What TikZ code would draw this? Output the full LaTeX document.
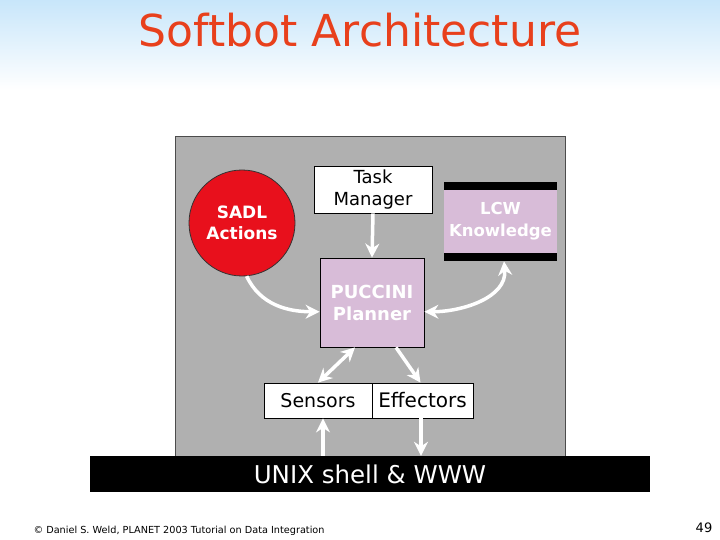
\documentclass[tikz,border=0pt]{standalone}
\usepackage{fontspec}
\setmainfont{DejaVu Sans}
\usetikzlibrary{arrows.meta}
\definecolor{panelgray}{HTML}{B0B0B0}
\definecolor{sadlred}{HTML}{E8101C}
\definecolor{lav}{HTML}{D8BCD8}
\definecolor{titlered}{HTML}{E8401C}
\definecolor{skyblue}{HTML}{C8E6FA}
\tikzset{
  wbox/.style={draw=black, line width=0.8pt, fill=white, inner sep=0pt, align=center, text=black},
  lbox/.style={draw=black, line width=0.8pt, fill=lav, inner sep=0pt, align=center, text=white},
  warrow/.style={draw=white, line width=3.5pt, -{Stealth[length=14pt,width=14pt]}},
  wdarrow/.style={draw=white, line width=3.5pt, {Stealth[length=14pt,width=14pt]}-{Stealth[length=14pt,width=14pt]}}
}
\begin{document}
\begin{tikzpicture}[x=1pt,y=-1pt]
\useasboundingbox (0,0) rectangle (720,540);
\fill[white] (0,0) rectangle (720,540);
\shade[top color=skyblue, bottom color=white] (0,0) rectangle (720,90);
\node[text=titlered, font=\fontsize{44}{48}\selectfont] (title) at (360,30) {Softbot Architecture};
% panel
\fill[panelgray] (175,136) rectangle (565,460);
\draw[black!70, line width=0.6pt] (175,460) -- (175,136) -- (565,136) -- (565,460);
% nodes
\node[circle, draw=black!80, line width=0.8pt, fill=sadlred, minimum size=106pt, inner sep=0pt, align=center, text=white, font=\fontsize{17}{21}\selectfont\bfseries] (sadl) at (242,223) {SADL\\Actions};
\node[wbox, minimum width=118pt, minimum height=47pt, font=\fontsize{18}{22}\selectfont] (task) at (373,189.5) {Task\\Manager};
\node[lbox, draw=none, minimum width=113pt, minimum height=79pt, font=\fontsize{16.5}{22}\selectfont\bfseries] (lcw) at (500.5,221.5) {LCW\\Knowledge};
\fill[black] (444,182) rectangle (557,190);
\fill[black] (444,253) rectangle (557,261);
\node[lbox, minimum width=104pt, minimum height=89pt, font=\fontsize{18}{22}\selectfont\bfseries] (puccini) at (372,302.5) {PUCCINI\\Planner};
\node[wbox, minimum width=108pt, minimum height=35pt, font=\fontsize{19}{22}\selectfont] (sensors) at (318,400.5) {Sensors};
\node[wbox, minimum width=101pt, minimum height=35pt, font=\fontsize{20}{22}\selectfont] (effectors) at (422.5,400.5) {Effectors};
\node[fill=black, minimum width=560pt, minimum height=36pt, inner sep=0pt, text=white, font=\fontsize{24.5}{26}\selectfont] (unix) at (370,474) {UNIX shell \& WWW};
% arrows
\draw[warrow] (task.south) -- (puccini.north);
\draw[warrow] (sadl.-85) to[out=-65, in=180] (puccini.190);
\draw[wdarrow] (puccini.-10) to[out=0, in=-85] (lcw.-85);
\draw[wdarrow] ([xshift=-17pt]puccini.south) -- (sensors.north);
\draw[warrow] ([xshift=24pt]puccini.south) -- ([xshift=-2pt]effectors.north);
\draw[warrow] ([xshift=5pt]sensors.south |- unix.north) -- ([xshift=5pt]sensors.south);
\draw[warrow] ([xshift=-1.5pt]effectors.south) -- ([xshift=-1.5pt]effectors.south |- unix.north);
% footer
\node[anchor=west, font=\fontsize{9.7}{11}\selectfont] (foot) at (30,531) {© Daniel S. Weld, PLANET 2003 Tutorial on Data Integration};
\node[font=\fontsize{13}{15}\selectfont] (page) at (704,528) {49};
\end{tikzpicture}
\end{document}
